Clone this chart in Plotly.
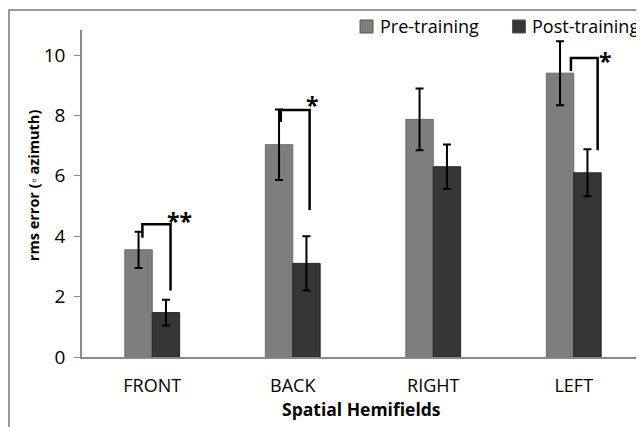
import plotly.graph_objects as go

categories = ["FRONT", "BACK", "RIGHT", "LEFT"]
series_names = ["Pre-training", "Post-training"]
pre_values = [3.55, 7.03, 7.87, 9.40]
pre_errors = [0.60, 1.17, 1.02, 1.06]
post_values = [1.47, 3.10, 6.30, 6.10]
post_errors = [0.43, 0.90, 0.74, 0.78]
y_ticks = [0, 2, 4, 6, 8, 10]

# significance brackets: (category index, left x offset, right x offset, top y, left leg end y, right leg end y, label)
brackets = [
    (0, -0.07, 0.13, 4.40, 3.95, 2.20, "**"),
    (1, -0.085, 0.12, 8.18, 7.78, 4.87, "*"),
    (3, -0.02, 0.17, 9.90, 9.47, 6.85, "*"),
]
# pixel nudges of the star labels
star_shift = [(-6, 3), (-6, 5), (-1, -3)]

FONT = "Open Sans"
PRE_COLOR = "#7e7e7e"
POST_COLOR = "#363636"

fig = go.Figure()
fig.add_trace(go.Bar(
    name=series_names[0], x=list(range(4)), y=pre_values, showlegend=False,
    marker=dict(color=PRE_COLOR, line=dict(color="#6a6a6a", width=1)),
    error_y=dict(type="data", array=pre_errors, color="black", thickness=2, width=4),
))
fig.add_trace(go.Bar(
    name=series_names[1], x=list(range(4)), y=post_values, showlegend=False,
    marker=dict(color=POST_COLOR, line=dict(color="#262626", width=1)),
    error_y=dict(type="data", array=post_errors, color="black", thickness=2, width=4),
))

for (ci, lx, rx, ty, ly, ry, lab), (sx, sy) in zip(brackets, star_shift):
    fig.add_trace(go.Scatter(
        x=[ci + lx, ci + lx, ci + rx, ci + rx],
        y=[ly, ty, ty, ry],
        mode="lines", line=dict(color="black", width=2.5),
        showlegend=False, hoverinfo="skip",
    ))
    fig.add_annotation(x=ci + rx, y=ty, text="<b>" + lab + "</b>", showarrow=False,
                       xanchor="left", yanchor="middle", xshift=sx, yshift=sy,
                       font=dict(family=FONT, size=23, color="black"))

# custom legend (square swatch + text)
legend_items = [(0.4947, 0.5178, 0.5267, PRE_COLOR), (0.766, 0.789, 0.797, POST_COLOR)]
for name, (x0, x1, tx, col) in zip(series_names, legend_items):
    fig.add_shape(type="rect", xref="paper", yref="paper", x0=x0, x1=x1,
                  y0=0.9908, y1=1.0306, fillcolor=col, line=dict(color="#555555", width=1))
    fig.add_annotation(xref="paper", yref="paper", x=tx, y=1.0122, text=name,
                       showarrow=False, xanchor="left", yanchor="middle",
                       font=dict(family=FONT, size=18, color="black"))

fig.add_annotation(xref="paper", yref="paper", x=-0.1068, y=0.527,
                   text="<b>rms error (◦ azimuth)</b>", textangle=-90,
                   showarrow=False, font=dict(family=FONT, size=14.5, color="black"))
fig.add_annotation(xref="paper", yref="paper", x=0.498, y=-0.159,
                   text="<b>Spatial Hemifields</b>", showarrow=False,
                   xanchor="center", yanchor="middle",
                   font=dict(family=FONT, size=17.5, color="black"))

fig.add_shape(type="rect", xref="paper", yref="paper",
              x0=-0.1299, x1=1.05, y0=-0.4, y1=1.061,
              line=dict(color="#7a7a7a", width=1.5), fillcolor="rgba(0,0,0,0)")

fig.update_layout(
    width=636, height=419,
    margin=dict(l=74, r=0, t=22, b=70),
    paper_bgcolor="white", plot_bgcolor="white",
    barmode="group", bargap=0.61, bargroupgap=0,
    font=dict(family=FONT, size=15, color="black"),
    showlegend=False,
    xaxis=dict(tickmode="array", tickvals=list(range(4)), ticktext=categories,
               range=[-0.5, 3.5], showline=True, linecolor="#8a8a8a", linewidth=1.5,
               ticks="", showgrid=False, zeroline=False, ticklabelstandoff=12,
               tickfont=dict(family=FONT, size=18)),
    yaxis=dict(range=[0, 10.83], tickvals=y_ticks, showline=True, linecolor="#8a8a8a",
               linewidth=1.5, ticks="outside", ticklen=6, tickcolor="#8a8a8a",
               ticklabelstandoff=5,
               showgrid=False, zeroline=False, tickfont=dict(family=FONT, size=19)),
)

fig.write_html("out.html")
